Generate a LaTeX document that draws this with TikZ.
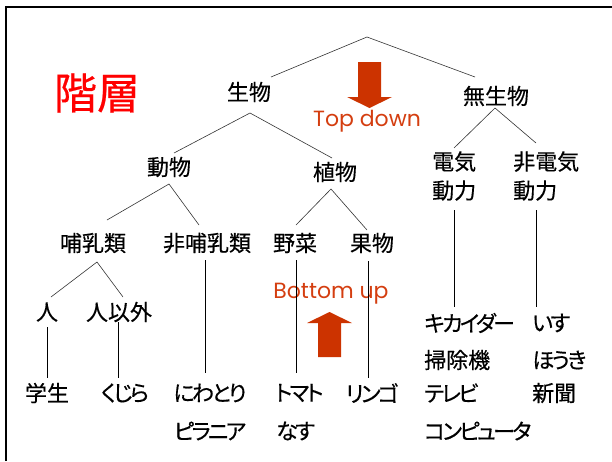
\documentclass[tikz,border=0pt]{standalone}
\usepackage{fontspec}
\setmainfont[RawFeature=+palt, FakeBold=0.4]{Noto Sans CJK JP}
\newfontfamily\latinfont{Poppins}
\definecolor{arrowred}{RGB}{204,51,0}
\definecolor{labelred}{RGB}{212,62,16}
\begin{document}
\begin{tikzpicture}[x=1pt,y=-1pt,
  lbl/.style={inner sep=0pt, font=\fontsize{22}{29}\selectfont},
  kana/.style={font=\fontsize{22}{29}\selectfont\addfontfeature{LetterSpace=-12}},
  lst/.style={lbl, anchor=west},
  edge/.style={draw=black!80, line width=0.6pt},
  vline/.style={draw=black, line width=0.9pt},
  bigarrow/.style={fill=arrowred, draw=none},
  dirlabel/.style={inner sep=0pt, text=labelred, font=\latinfont\fontsize{22}{24}\selectfont},
  ]
\useasboundingbox (0,0) rectangle (612,461);
\draw[line width=2.4pt] (6,461) -- (6,7) -- (612,7);

% nodes
\node[inner sep=0pt, text=red, font=\fontsize{43}{46}\selectfont] (title) at (97,93) {階層};
\node[lbl] (seibutsu) at (249,92) {生物};
\node[lbl] (museibutsu) at (496,96) {無生物};
\node[lbl] (doubutsu) at (169,167) {動物};
\node[lbl] (shokubutsu) at (335,172) {植物};
\node[lbl, align=left, anchor=west] (denki) at (432,176) {電気\\動力};
\node[lbl, align=left, anchor=west] (hidenki) at (513,176) {非電気\\動力};
\node[lbl] (honyu) at (93,243) {哺乳類};
\node[lbl] (hihonyu) at (207,243) {非哺乳類};
\node[lbl] (yasai) at (295,243) {野菜};
\node[lbl] (kudamono) at (372,243) {果物};
\node[lbl] (hito) at (47,312) {人};
\node[lbl] (hitoigai) at (119,312) {人以外};
\node[lbl] (gakusei) at (47,393) {学生};
\node[lbl, kana] (kujira) at (125,393) {くじら};
\node[lbl, kana] (niwatori) at (210,393) {にわとり};
\node[lbl, kana] (pirania) at (210,431) {ピラニア};
\node[lst, kana] (tomato) at (275,393) {トマト};
\node[lst, kana] (nasu) at (276,431) {なす};
\node[lbl, kana] (ringo) at (372,393) {リンゴ};
\node[lst, kana] (kikaida) at (424,323) {キカイダー};
\node[lst] (souji) at (424,360) {掃除機};
\node[lst, kana] (terebi) at (424,393) {テレビ};
\node[lst, kana] (pc) at (424,431) {コンピュータ};
\node[lst, kana] (isu) at (532,323) {いす};
\node[lst, kana] (houki) at (532,360) {ほうき};
\node[lst] (shinbun) at (532,393) {新聞};

\node[dirlabel] (topdown) at (367,121) {Top down};
\node[dirlabel] (bottomup) at (331,294) {Bottom up};

% connector end points
\coordinate (root) at (367,37);
\coordinate (r-l) at (271,77);
\coordinate (r-r) at (475,77);
\coordinate (s-ap) at (250,113);
\coordinate (s-l) at (174,153);
\coordinate (s-r) at (332,158);
\coordinate (m-ap) at (495,108);
\coordinate (m-l) at (454,148);
\coordinate (m-r) at (536,143);
\coordinate (d-ap) at (169,184);
\coordinate (d-l) at (107,220);
\coordinate (d-r) at (199,225);
\coordinate (p-ap) at (331,189);
\coordinate (p-l) at (296,225);
\coordinate (p-r) at (367,230);
\coordinate (h-ap) at (97,262);
\coordinate (h-l) at (51,297);
\coordinate (h-r) at (123,297);
\coordinate (hh-t) at (205,260);
\coordinate (hh-b) at (205,373);
\coordinate (y-t) at (296,260);
\coordinate (y-b) at (296,373);
\coordinate (k-t) at (368,261);
\coordinate (k-b) at (368,378);
\coordinate (hi-t) at (47,327);
\coordinate (hi-b) at (47,378);
\coordinate (hg-t) at (118,322);
\coordinate (hg-b) at (118,378);
\coordinate (e-t) at (454,210);
\coordinate (e-b) at (454,307);
\coordinate (ne-t) at (536,210);
\coordinate (ne-b) at (536,307);

% tree edges
\draw[edge] (r-l) -- (root) -- (r-r);
\draw[edge] (s-l) -- (s-ap) -- (s-r);
\draw[edge] (m-l) -- (m-ap) -- (m-r);
\draw[edge] (d-l) -- (d-ap) -- (d-r);
\draw[edge] (p-l) -- (p-ap) -- (p-r);
\draw[edge] (h-l) -- (h-ap) -- (h-r);
\draw[vline] (hh-t) -- (hh-b);
\draw[vline] (y-t) -- (y-b);
\draw[vline] (k-t) -- (k-b);
\draw[vline] (hi-t) -- (hi-b);
\draw[vline] (hg-t) -- (hg-b);
\draw[vline] (e-t) -- (e-b);
\draw[vline] (ne-t) -- (ne-b);

% block arrows
\fill[bigarrow] (358,62) -- (381,62) -- (381,97) -- (392,97) -- (369.5,108) -- (347,97) -- (358,97) -- cycle;
\fill[bigarrow] (318,357) -- (341,357) -- (341,323) -- (352,323) -- (329.5,312) -- (307,323) -- (318,323) -- cycle;
\end{tikzpicture}
\end{document}
